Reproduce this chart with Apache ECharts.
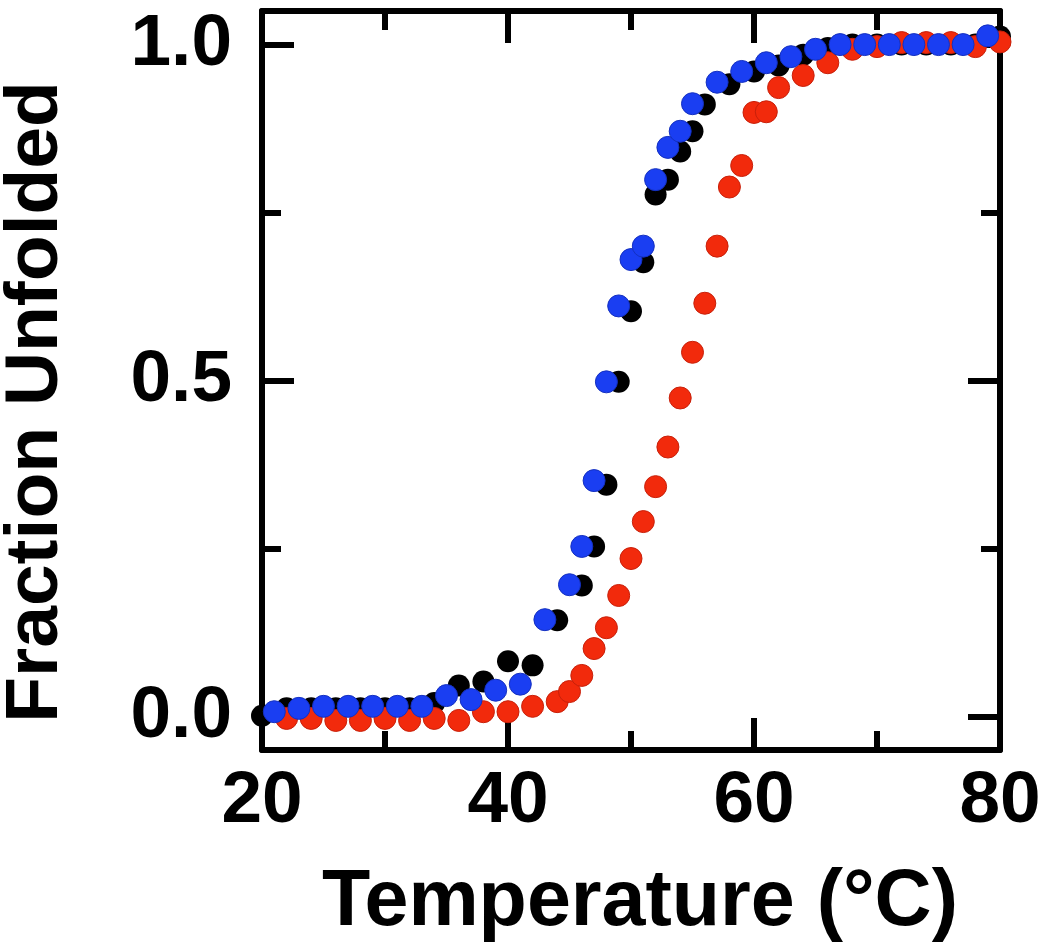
<!DOCTYPE html>
<html>
<head>
<meta charset="utf-8">
<script src="https://cdn.jsdelivr.net/npm/echarts@6/dist/echarts.min.js"></script>
<style>
html,body{margin:0;padding:0;background:#fff;}
#chart{width:1050px;height:945px;}
</style>
</head>
<body>
<div id="chart"></div>
<script>
// Temperature (°C) and fraction unfolded for the three samples
const blackT = [20,22,24,26,28,30,32,34,36,38,40,42,44,46,47,48,49,50,51,52,53,54,55,56,58,60,62,64,66,68,70,72,74,76,78,80];
const blackF = [0.001,0.012,0.012,0.012,0.012,0.012,0.012,0.02,0.046,0.052,0.082,0.076,0.143,0.195,0.253,0.345,0.498,0.603,0.676,0.777,0.799,0.841,0.871,0.911,0.941,0.960,0.969,0.985,0.995,1.0,1.0,1.0,1.0,1.0,1.0,1.012];

const redT = [22,24,26,28,30,32,34,36,38,40,42,44,45,46,47,48,49,50,51,52,53,54,55,56,57,58,59,60,61,62,64,66,68,70,72,74,76,78,80];
const redF = [-0.003,-0.003,-0.006,-0.006,-0.003,-0.006,-0.003,-0.006,0.007,0.007,0.015,0.022,0.037,0.061,0.101,0.132,0.180,0.235,0.290,0.342,0.401,0.474,0.542,0.615,0.700,0.788,0.820,0.899,0.900,0.936,0.954,0.973,0.993,0.997,1.003,1.003,1.003,0.997,1.004];

const blueT = [21,23,25,27,29,31,33,35,37,39,41,43,45,46,47,48,49,50,51,52,53,54,55,57,59,61,63,65,67,69,71,73,75,77,79];
const blueF = [0.007,0.012,0.015,0.015,0.015,0.015,0.015,0.031,0.025,0.039,0.048,0.144,0.196,0.253,0.351,0.498,0.611,0.680,0.700,0.799,0.847,0.871,0.912,0.944,0.960,0.973,0.982,0.993,1.0,1.0,1.0,1.0,1.0,1.0,1.013];

const xMajor = [20,40,60,80];
const xMinor = [30,50,70];
const yMajor = [0,0.5,1.0];
const yMinor = [0.25,0.75];

const FONT = 'Liberation Sans';
const AXIS_W = 6;

function axis(kind, pos, ticks, len, labels, line) {
  const isX = kind === 'x';
  return {
    type: 'value',
    position: pos,
    min: isX ? 20 : -0.05,
    max: isX ? 80 : 1.05,
    splitLine: {show: false},
    axisLine: {show: line, onZero: false, lineStyle: {color: '#000', width: AXIS_W}},
    axisTick: {show: true, inside: true, length: len, customValues: ticks,
               lineStyle: {color: '#000', width: 6}},
    axisLabel: labels ? {
      show: true, customValues: ticks,
      margin: isX ? 15 : 30,
      fontFamily: FONT, fontWeight: 'bold', fontSize: 73, color: '#000',
      formatter: v => isX ? String(Math.round(v)) : Number(v).toFixed(1)
    } : {show: false}
  };
}

function pairs(t, f) { return t.map((x, i) => [x, f[i]]); }

const chart = echarts.init(document.getElementById('chart'), null, {renderer: 'canvas'});
chart.setOption({
  animation: false,
  backgroundColor: '#fff',
  grid: {left: 262, right: 50, top: 11, bottom: 195},
  xAxis: [
    axis('x', 'bottom', xMajor, 32, true, true),
    axis('x', 'bottom', xMinor, 19, false, false),
    axis('x', 'top', xMajor, 32, false, true),
    axis('x', 'top', xMinor, 19, false, false)
  ],
  yAxis: [
    axis('y', 'left', yMajor, 32, true, true),
    axis('y', 'left', yMinor, 19, false, false),
    axis('y', 'right', yMajor, 32, false, true),
    axis('y', 'right', yMinor, 19, false, false)
  ],
  graphic: [
    {type: 'text', x: 640, y: 903, style: {text: 'Temperature (°C)', font: 'bold 79px "Liberation Sans"', fill: '#000', align: 'center', verticalAlign: 'middle'}},
    {type: 'text', x: 36, y: 402, rotation: Math.PI / 2, style: {text: 'Fraction Unfolded', font: 'bold 75px "Liberation Sans"', fill: '#000', align: 'center', verticalAlign: 'middle'}}
  ],
  series: [
    {type: 'scatter', name: 'black', clip: false, symbolSize: 22, data: pairs(blackT, blackF),
     itemStyle: {color: '#000000', opacity: 1}},
    {type: 'scatter', name: 'red', clip: false, symbolSize: 22, data: pairs(redT, redF),
     itemStyle: {color: '#f22a0c', borderColor: '#c8200a', borderWidth: 1, opacity: 1}},
    {type: 'scatter', name: 'blue', clip: false, symbolSize: 22, data: pairs(blueT, blueF),
     itemStyle: {color: '#1a3ef2', borderColor: '#1430c0', borderWidth: 1, opacity: 1}}
  ]
});
</script>
</body>
</html>
